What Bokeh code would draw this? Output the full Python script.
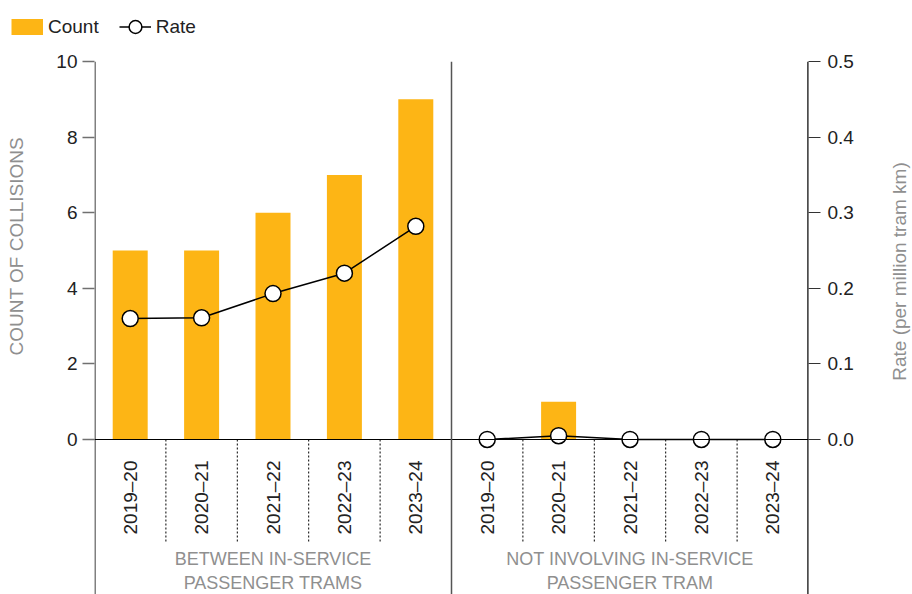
import math
from bokeh.plotting import figure
from bokeh.layouts import column, row
from bokeh.models import (Range1d, LinearAxis, Span, Legend, LegendItem, Label,
                          FixedTicker, NumeralTickFormatter)
from bokeh.core.properties import value
from bokeh.embed import file_html
from bokeh.resources import INLINE

# ---- data ----
groups = ["BETWEEN IN-SERVICE\nPASSENGER TRAMS", "NOT INVOLVING IN-SERVICE\nPASSENGER TRAM"]
years = ["2019–20", "2020–21", "2021–22", "2022–23", "2023–24"]
count_between = [5, 5, 6, 7, 9]
count_not = [0, 1, 0, 0, 0]
rate_between = [0.160, 0.161, 0.193, 0.220, 0.282]
rate_not = [0.0, 0.005, 0.0, 0.0, 0.0]
count_ticks = [0, 2, 4, 6, 8, 10]
rate_ticks = [0.0, 0.1, 0.2, 0.3, 0.4, 0.5]
count_title = "COUNT OF COLLISIONS"
rate_title = "Rate (per million tram km)"

FONT_NAME = "Liberation Sans"
FONT = value(FONT_NAME)
ORANGE = "#FDB515"
GRAY_TXT = "#8f8f8f"
NBSP = "\u00a0"

n = len(years)
x1 = [i + 0.5 for i in range(n)]
x2 = [n + i + 0.5 for i in range(n)]
xs = x1 + x2

MAIN_W = 888
TITLE_W = 912 - MAIN_W
LEG_H = 44


def free_frame(fig):
    if "frame_align" in fig.properties():
        fig.frame_align = False
    fig.grid.visible = False
    fig.outline_line_color = None


# ---------------- legend strip ----------------
lf = figure(width=MAIN_W, height=LEG_H, x_range=Range1d(0, 1), y_range=Range1d(0, 1),
            output_backend="svg", toolbar_location=None, x_axis_location=None,
            y_axis_location=None, min_border=0)
free_frame(lf)
# legend-only renderers (their points lie outside the strip's ranges)
swatch = lf.line(x=[5, 6], y=[5, 5], line_color=ORANGE, line_width=16, line_cap="butt")
leg_line = lf.line(x=[5, 6], y=[5, 5], line_color="black", line_width=1.5)
leg_dot = lf.scatter(x=[5], y=[5], size=16, fill_color="white", line_color="black",
                     line_width=1.5)
leg = Legend(items=[LegendItem(label="Count", renderers=[swatch]),
                    LegendItem(label="Rate", renderers=[leg_line, leg_dot])],
             location=(11, 0), orientation="horizontal", glyph_width=32, glyph_height=35,
             label_standoff=5, spacing=20, padding=0, margin=0, border_line_color=None,
             background_fill_alpha=0, label_text_font=FONT_NAME,
             label_text_font_size="19px", label_text_color="#222222")
lf.add_layout(leg, "center")

# ---------------- main chart ----------------
Y0 = -4.1005
R0 = -0.20503
p = figure(width=MAIN_W, height=594 - LEG_H, x_range=Range1d(0, 2 * n),
           y_range=Range1d(Y0, 10), output_backend="svg", toolbar_location=None,
           x_axis_location=None, min_border_left=94, min_border_right=MAIN_W - 808,
           min_border_top=61 - LEG_H, min_border_bottom=0)
p.grid.visible = False
p.outline_line_color = None
p.background_fill_color = "white"

# left axis
la = p.yaxis[0]
la.ticker = FixedTicker(ticks=count_ticks)
la.bounds = (0, 10)
la.major_tick_out = 12
la.major_tick_in = 0
la.minor_tick_out = 0
la.minor_tick_in = 0
la.axis_line_color = None
la.major_tick_line_color = "#707070"
la.major_tick_line_width = 1.5
la.major_label_text_font = FONT_NAME
la.major_label_text_font_size = "19px"
la.major_label_text_color = "#222222"
la.major_label_standoff = 5
la.axis_label = NBSP * 31 + count_title   # padding lifts the centred title
la.axis_label_text_font = FONT_NAME
la.axis_label_text_font_size = "19px"
la.axis_label_text_font_style = "normal"
la.axis_label_text_color = GRAY_TXT
la.axis_label_standoff = 26

# right axis
p.extra_y_ranges = {"rate": Range1d(R0, 0.5)}
ra = LinearAxis(y_range_name="rate", ticker=FixedTicker(ticks=rate_ticks),
                formatter=NumeralTickFormatter(format="0.0"), bounds=(0, 0.5))
ra.major_tick_out = 12
ra.major_tick_in = 0
ra.minor_tick_out = 0
ra.minor_tick_in = 0
ra.axis_line_color = None
ra.major_tick_line_color = "#333333"
ra.major_tick_line_width = 1.2
ra.major_label_text_font = FONT_NAME
ra.major_label_text_font_size = "19px"
ra.major_label_text_color = "#222222"
ra.major_label_standoff = 7
p.add_layout(ra, "right")

# axis rules running the full frame height (half of each is clipped at the frame edge)
p.segment(x0=[0], y0=[Y0], x1=[0], y1=[10], line_color="#808080", line_width=3)
p.segment(x0=[2 * n], y0=[Y0], x1=[2 * n], y1=[10], line_color="black", line_width=2.4)

# bars
bars = p.vbar(x=xs, top=count_between + count_not, bottom=0, width=0.49,
              fill_color=ORANGE, line_color=None)

# zero line and group divider
p.add_layout(Span(location=0, dimension="width", line_color="black", line_width=1.2))
p.add_layout(Span(location=n, dimension="height", line_color="#555555", line_width=1.5))

# dotted separators between categories
seps = [i for i in range(1, 2 * n) if i != n]
p.segment(x0=seps, y0=[0] * len(seps), x1=seps, y1=[-2.75] * len(seps),
          line_color="black", line_width=1, line_dash="2 2")

# rate lines and markers
l1 = p.line(x1, rate_between, y_range_name="rate", line_color="black", line_width=1.5)
p.line(x2, rate_not, y_range_name="rate", line_color="black", line_width=1.5)
sc = p.scatter(xs, rate_between + rate_not, y_range_name="rate", size=16,
               fill_color="white", line_color="black", line_width=1.5)

# category labels
p.text(x=xs, y=[-0.556] * len(xs), text=years + years, angle=math.pi / 2,
       text_align="right", text_baseline="middle", text_font=FONT,
       text_font_size="19px", text_color="#222222")

# group labels
p.text(x=[n / 2, n + n / 2], y=[-3.479, -3.479], text=groups, text_align="center",
       text_baseline="middle", text_font=FONT, text_font_size="18px",
       text_color=GRAY_TXT, text_line_height=1.2)

# ---------------- right-hand axis title strip ----------------
rf = figure(width=TITLE_W, height=594, x_range=Range1d(0, 1), y_range=Range1d(0, 1),
            output_backend="svg", toolbar_location=None, x_axis_location=None,
            y_axis_location=None, min_border=0)
free_frame(rf)
rf.add_layout(Label(x=0.45, y=(594 - 271) / 594, text=rate_title, angle=math.pi / 2,
                    text_align="center", text_baseline="middle", text_font=FONT_NAME,
                    text_font_size="19px", text_color=GRAY_TXT))

layout = row(column(lf, p, spacing=0), rf, spacing=0)
open("out.html", "w").write(file_html(layout, INLINE))
